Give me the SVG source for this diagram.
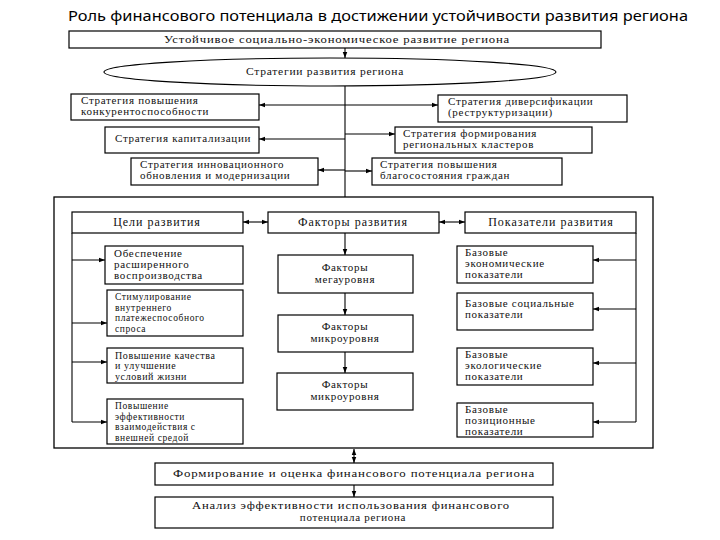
<svg xmlns="http://www.w3.org/2000/svg" width="720" height="540" viewBox="0 0 720 540">
<defs>
<style>
.box{fill:#fff;stroke:#000;stroke-width:1.2}
.frame{fill:none;stroke:#000;stroke-width:1.3}
.ln{fill:none;stroke:#000;stroke-width:1.1}
.t{font-family:"Liberation Serif","DejaVu Serif",serif;font-size:11px;letter-spacing:0.7px;fill:#111}
.h{font-size:12px;letter-spacing:1px}
.s{font-size:9.5px;letter-spacing:0.6px}
.m{font-size:10px;letter-spacing:0.6px}
.c{text-anchor:middle}
.title{font-family:"Noto Sans","Liberation Sans",sans-serif;font-size:15px;fill:#000}
</style>
<marker id="ah" viewBox="0 0 8 8" refX="8" refY="4" markerWidth="6" markerHeight="6" orient="auto-start-reverse" markerUnits="userSpaceOnUse">
<path d="M0,1 L8,4 L0,7 z" fill="#000"/>
</marker>
</defs>
<rect width="720" height="540" fill="#fff"/>
<text class="title" x="378" y="21" text-anchor="middle" textLength="620" lengthAdjust="spacingAndGlyphs">Роль финансового потенциала в достижении устойчивости развития региона</text>

<g id="connectors">
<line class="ln" x1="345" y1="48" x2="345" y2="58" marker-end="url(#ah)"/>
<line class="ln" x1="345" y1="86" x2="345" y2="197"/>
<line class="ln" x1="345" y1="105" x2="259" y2="105" marker-end="url(#ah)"/>
<line class="ln" x1="345" y1="139" x2="259" y2="139" marker-end="url(#ah)"/>
<line class="ln" x1="345" y1="170" x2="318" y2="170" marker-end="url(#ah)"/>
<line class="ln" x1="345" y1="105" x2="438" y2="105" marker-end="url(#ah)"/>
<line class="ln" x1="345" y1="134" x2="395" y2="134" marker-end="url(#ah)"/>
<line class="ln" x1="345" y1="171" x2="372" y2="171" marker-end="url(#ah)"/>
<line class="ln" x1="243" y1="222" x2="268" y2="222" marker-start="url(#ah)" marker-end="url(#ah)"/>
<line class="ln" x1="439" y1="222" x2="465" y2="222" marker-start="url(#ah)" marker-end="url(#ah)"/>
<line class="ln" x1="345" y1="233" x2="345" y2="255" marker-end="url(#ah)"/>
<line class="ln" x1="345" y1="293" x2="345" y2="315" marker-end="url(#ah)"/>
<line class="ln" x1="345" y1="352" x2="345" y2="373" marker-end="url(#ah)"/>
<line class="ln" x1="72" y1="233" x2="72" y2="422"/>
<line class="ln" x1="72" y1="260" x2="105" y2="260" marker-end="url(#ah)"/>
<line class="ln" x1="72" y1="323" x2="107" y2="323" marker-end="url(#ah)"/>
<line class="ln" x1="72" y1="362" x2="107" y2="362" marker-end="url(#ah)"/>
<line class="ln" x1="72" y1="422" x2="107" y2="422" marker-end="url(#ah)"/>
<line class="ln" x1="636" y1="233" x2="636" y2="422"/>
<line class="ln" x1="636" y1="260" x2="593" y2="260" marker-end="url(#ah)"/>
<line class="ln" x1="636" y1="309" x2="593" y2="309" marker-end="url(#ah)"/>
<line class="ln" x1="636" y1="363" x2="593" y2="363" marker-end="url(#ah)"/>
<line class="ln" x1="636" y1="422" x2="593" y2="422" marker-end="url(#ah)"/>
<line class="ln" x1="354" y1="449" x2="354" y2="463" marker-start="url(#ah)" marker-end="url(#ah)"/>
<line class="ln" x1="354" y1="485" x2="354" y2="497" marker-end="url(#ah)"/>
</g>

<g id="n-top"><rect class="box" x="69" y="31" width="532" height="17"/><text class="t" x="164" y="43" textLength="346" lengthAdjust="spacingAndGlyphs">Устойчивое социально-экономическое развитие региона</text></g>
<g id="n-strat"><ellipse class="box" cx="330" cy="72" rx="226" ry="14"/><text class="t" x="246" y="75" textLength="158" lengthAdjust="spacingAndGlyphs">Стратегии развития региона</text></g>

<g id="n-s1"><rect class="box" x="71" y="94" width="188" height="26"/><text class="t" x="81" y="104">Стратегия повышения</text><text class="t" x="81" y="115">конкурентоспособности</text></g>
<g id="n-s2"><rect class="box" x="105" y="127" width="154" height="26"/><text class="t" x="115" y="142">Стратегия капитализации</text></g>
<g id="n-s3"><rect class="box" x="131" y="158" width="187" height="27"/><text class="t" x="140" y="168">Стратегия инновационного</text><text class="t" x="140" y="179">обновления и модернизации</text></g>
<g id="n-s4"><rect class="box" x="438" y="95" width="189" height="27"/><text class="t" x="448" y="105">Стратегия диверсификации</text><text class="t" x="448" y="116">(реструктуризации)</text></g>
<g id="n-s5"><rect class="box" x="395" y="127" width="197" height="26"/><text class="t" x="403" y="137">Стратегия формирования</text><text class="t" x="403" y="148">региональных кластеров</text></g>
<g id="n-s6"><rect class="box" x="372" y="158" width="190" height="27"/><text class="t" x="380" y="168">Стратегия повышения</text><text class="t" x="380" y="179">благосостояния граждан</text></g>

<g id="n-frame"><rect class="frame" x="54" y="197" width="599" height="251"/></g>

<g id="n-goals"><rect class="box" x="72" y="212" width="171" height="21"/><text class="t h c" x="157" y="226">Цели развития</text></g>
<g id="n-factors"><rect class="box" x="268" y="212" width="171" height="21"/><text class="t h c" x="353" y="226">Факторы развития</text></g>
<g id="n-ind"><rect class="box" x="465" y="212" width="171" height="21"/><text class="t h c" x="551" y="226">Показатели развития</text></g>

<g id="n-g1"><rect class="box" x="105" y="246" width="138" height="38"/><text class="t" x="114" y="257">Обеспечение</text><text class="t" x="114" y="268">расширенного</text><text class="t" x="114" y="279">воспроизводства</text></g>
<g id="n-g2"><rect class="box" x="107" y="290" width="136" height="46"/><text class="t s" x="115" y="300">Стимулирование</text><text class="t s" x="115" y="310.5">внутреннего</text><text class="t s" x="115" y="321">платежеспособного</text><text class="t s" x="115" y="331.5">спроса</text></g>
<g id="n-g3"><rect class="box" x="107" y="348" width="136" height="35"/><text class="t m" x="115" y="358.5">Повышение качества</text><text class="t m" x="115" y="369">и улучшение</text><text class="t m" x="115" y="379.5">условий  жизни</text></g>
<g id="n-g4"><rect class="box" x="107" y="399" width="136" height="45"/><text class="t s" x="115" y="409">Повышение</text><text class="t s" x="115" y="419.5">эффективности</text><text class="t s" x="115" y="430">взаимодействия с</text><text class="t s" x="115" y="440.5">внешней средой</text></g>

<g id="n-f1"><rect class="box" x="278" y="255" width="135" height="38"/><text class="t c" x="345" y="271">Факторы</text><text class="t c" x="345" y="283">мегауровня</text></g>
<g id="n-f2"><rect class="box" x="278" y="315" width="135" height="37"/><text class="t c" x="345" y="330">Факторы</text><text class="t c" x="345" y="342">микроуровня</text></g>
<g id="n-f3"><rect class="box" x="277" y="373" width="136" height="37"/><text class="t c" x="345" y="388">Факторы</text><text class="t c" x="345" y="400">микроуровня</text></g>

<g id="n-i1"><rect class="box" x="457" y="246" width="136" height="37"/><text class="t" x="465" y="256">Базовые</text><text class="t" x="465" y="267">экономические</text><text class="t" x="465" y="278">показатели</text></g>
<g id="n-i2"><rect class="box" x="457" y="293" width="136" height="37"/><text class="t" x="465" y="307">Базовые социальные</text><text class="t" x="465" y="318">показатели</text></g>
<g id="n-i3"><rect class="box" x="457" y="348" width="136" height="37"/><text class="t" x="465" y="358">Базовые</text><text class="t" x="465" y="369">экологические</text><text class="t" x="465" y="380">показатели</text></g>
<g id="n-i4"><rect class="box" x="457" y="403" width="136" height="34"/><text class="t" x="465" y="413">Базовые</text><text class="t" x="465" y="424">позиционные</text><text class="t" x="465" y="435">показатели</text></g>

<g id="n-form"><rect class="box" x="155" y="463" width="398" height="22"/><text class="t" x="173" y="477" textLength="362" lengthAdjust="spacingAndGlyphs">Формирование и оценка финансового потенциала региона</text></g>
<g id="n-anal"><rect class="box" x="155" y="497" width="398" height="31"/><text class="t" x="192" y="509" textLength="318" lengthAdjust="spacingAndGlyphs">Анализ эффективности использования финансового</text><text class="t c" x="353" y="521">потенциала региона</text></g>
</svg>
